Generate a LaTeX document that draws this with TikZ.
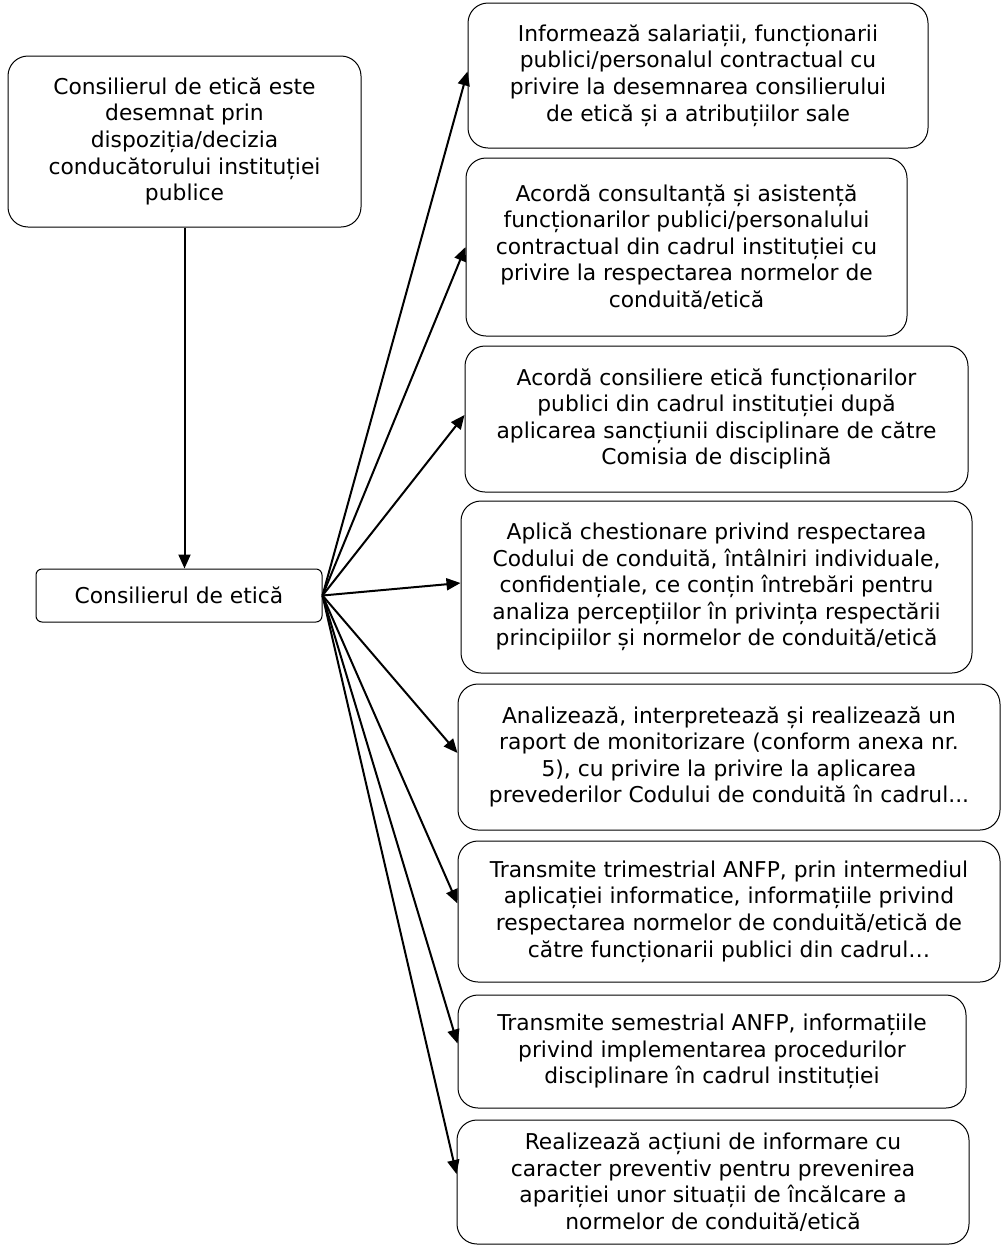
\documentclass[tikz,border=0pt]{standalone}
\usepackage{fontspec}
\setmainfont{DejaVu Sans}
\usepackage{xcolor}
\definecolor{cLine}{HTML}{000000}
\usepackage{tikz}
\usetikzlibrary{positioning,arrows.meta}
\tikzset{
  node-box/.style={draw=cLine,line width=0.5pt,rounded corners=10pt,
    align=center,inner sep=2pt,
    font=\fontsize{10.9pt}{13.3pt}\selectfont},
  node-small/.style={node-box,rounded corners=3pt},
  arrow/.style={-{Triangle[length=7pt,width=6pt]},line width=1pt,draw=cLine},
}

\begin{document}
\begin{tikzpicture}[x=0.5pt,y=-0.5pt]
  \useasboundingbox (0,0) rectangle (1001,1248);
  % stanga: desemnarea consilierului
  \node[node-box,minimum width=176.5pt,minimum height=85.5pt] (desemnare) at (184.5,141.5)
    {Consilierul de etică este\\desemnat prin\\dispoziția/decizia\\conducătorului instituției\\publice};
  \node[node-small,minimum width=143pt,minimum height=26.5pt] (consilier) at (179,595.5)
    {Consilierul de etică};
  % dreapta: atributiile consilierului de etica
  \node[node-box,minimum width=230pt,minimum height=72.5pt] (a1) at (698,75.5)
    {Informează salariații, funcționarii\\publici/personalul contractual cu\\privire la desemnarea consilierului\\de etică și a atribuțiilor sale};
  \node[node-box,minimum width=220.5pt,minimum height=89pt] (a2) at (686.5,247)
    {Acordă consultanță și asistență\\funcționarilor publici/personalului\\contractual din cadrul instituției cu\\privire la respectarea normelor de\\conduită/etică};
  \node[node-box,minimum width=251.5pt,minimum height=73pt] (a3) at (716.5,419)
    {Acordă consiliere etică funcționarilor\\publici din cadrul instituției după\\aplicarea sancțiunii disciplinare de către\\Comisia de disciplină};
  \node[node-box,minimum width=255.5pt,minimum height=86pt] (a4) at (716.5,587)
    {Aplică chestionare privind respectarea\\Codului de conduită, întâlniri individuale,\\confidențiale, ce conțin întrebări pentru\\analiza percepțiilor în privința respectării\\principiilor și normelor de conduită/etică};
  \node[node-box,minimum width=271pt,minimum height=73pt] (a5) at (729,757)
    {Analizează, interpretează și realizează un\\raport de monitorizare (conform anexa nr.\\5), cu privire la privire la aplicarea\\prevederilor Codului de conduită în cadrul...};
  \node[node-box,minimum width=271pt,minimum height=70.5pt] (a6) at (729,911.5)
    {Transmite trimestrial ANFP, prin intermediul\\aplicației informatice, informațiile privind\\respectarea normelor de conduită/etică de\\către funcționarii publici din cadrul…};
  \node[node-box,minimum width=254pt,minimum height=56.5pt] (a7) at (712,1051.5)
    {Transmite semestrial ANFP, informațiile\\privind implementarea procedurilor\\disciplinare în cadrul instituției};
  \node[node-box,minimum width=256pt,minimum height=62pt] (a8) at (713,1182)
    {Realizează acțiuni de informare cu\\caracter preventiv pentru prevenirea\\apariției unor situații de încălcare a\\normelor de conduită/etică};
  % conectori
  \draw[arrow] (desemnare.south) -- (desemnare.south |- consilier.north);
  \draw[arrow] (consilier.east) -- ([yshift=2pt]a1.west);
  \draw[arrow] (consilier.east) -- (a2.west);
  \draw[arrow] (consilier.east) -- ([yshift=2pt]a3.west);
  \draw[arrow] (consilier.east) -- ([yshift=2pt]a4.west);
  \draw[arrow] (consilier.east) -- ([yshift=2pt]a5.west);
  \draw[arrow] (consilier.east) -- ([yshift=4pt]a6.west);
  \draw[arrow] (consilier.east) -- ([yshift=4pt]a7.west);
  \draw[arrow] (consilier.east) -- ([yshift=4pt]a8.west);
\end{tikzpicture}
\end{document}
